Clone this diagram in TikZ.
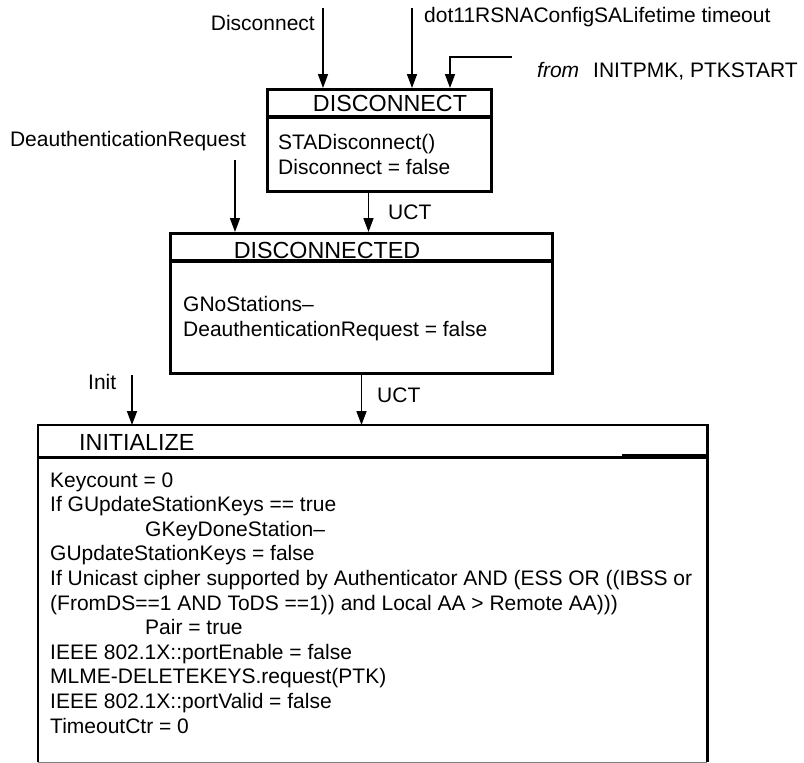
\documentclass[tikz,border=0pt]{standalone}
\usepackage{fontspec}
\setmainfont{Liberation Sans}
\usetikzlibrary{arrows.meta}
\begin{document}
\begin{tikzpicture}[x=1pt,y=-1pt,
  box/.style={draw, line width=3pt, inner sep=0pt, anchor=north west},
  hdr/.style={font=\fontsize{23.3}{27}\selectfont, inner sep=0pt},
  txt/.style={font=\fontsize{21}{25}\selectfont, inner sep=0pt, anchor=base west},
  arr/.style={line width=1.6pt, -{Triangle[length=14pt,width=10pt]}},
]
\useasboundingbox (0,0) rectangle (804,763);

% ---------- DISCONNECT ----------
\node[box, minimum width=224pt, minimum height=102pt] (dc) at (266,88) {};
\draw[line width=4pt] (266,117) -- (490,117);
\node[hdr, anchor=base] (dch) at (390,111) {DISCONNECT};
\node[txt] (dc1) at (278,149) {STADisconnect()};
\node[txt] (dc2) at (278,174) {Disconnect = false};

% inputs to DISCONNECT
\coordinate (sDisc) at (323,8);
\draw[arr] (sDisc) -- (sDisc |- dc.north);
\node[txt, anchor=base east] (lDisc) at (315,30) {Disconnect};
\coordinate (sDot) at (412,8);
\draw[arr] (sDot) -- (sDot |- dc.north);
\node[txt] (lDot) at (424,22) {dot11RSNAConfigSALifetime timeout};
\coordinate (sFrom) at (512,57);
\coordinate (kFrom) at (450,57);
\draw[arr] (sFrom) -- (kFrom) -- (kFrom |- dc.north);
\node[txt] (lFrom) at (537,77) {\textit{from}\hspace{14pt}INITPMK, PTKSTART};

% ---------- DISCONNECTED ----------
\node[box, minimum width=382pt, minimum height=140pt] (dd) at (169,232) {};
\draw[line width=4pt] (169,261) -- (551,261);
\node[hdr, anchor=base] (ddh) at (327,258) {DISCONNECTED};
\node[txt] (dd1) at (183,311) {GNoStations--};
\node[txt] (dd2) at (183,336) {DeauthenticationRequest = false};

% UCT from DISCONNECT
\draw[arr] ([xshift=-11pt]dc.south) -- ([xshift=-11pt]dc.south |- dd.north);
\node[txt] (lUct1) at (388,219) {UCT};
% DeauthenticationRequest
\coordinate (sDeauth) at (235,160);
\draw[arr] (sDeauth) -- (sDeauth |- dd.north);
\node[txt, anchor=base] (lDeauth) at (128,146) {DeauthenticationRequest};

% ---------- INITIALIZE ----------
\node[inner sep=0pt, minimum width=669pt, minimum height=337pt, anchor=north west] (ini) at (38,425) {};
\draw[line width=2.5pt] (ini.south west) -- (ini.north west) -- (ini.north east) -- (ini.south east);
\draw[gray, line width=1pt] (ini.south west) -- (ini.south east);
\draw[line width=3pt] (38,457) -- (707,457);
\draw[line width=4pt] (622,456) -- (707,456);
\node[hdr, anchor=base west] (inih) at (79,450) {INITIALIZE};

\foreach \t/\x [count=\k from 0] in {
  {Keycount = 0}/50,
  {If GUpdateStationKeys == true}/50,
  {GKeyDoneStation--}/145,
  {GUpdateStationKeys = false}/50,
  {If Unicast cipher supported by Authenticator AND (ESS OR ((IBSS or}/50,
  {(FromDS==1 AND ToDS ==1)) and Local AA > Remote AA)))}/50,
  {Pair = true}/145,
  {IEEE 802.1X::portEnable = false}/50,
  {MLME-DELETEKEYS.request(PTK)}/50,
  {IEEE 802.1X::portValid = false}/50,
  {TimeoutCtr = 0}/50}
  \node[txt] (ini\k) at (\x,{487+24.6*\k}) {\t};

% UCT from DISCONNECTED
\draw[arr] (dd.south) -- (dd.south |- ini.north);
\node[txt] (lUct2) at (377,402) {UCT};
% Init
\coordinate (sInit) at (132,375);
\draw[arr] (sInit) -- (sInit |- ini.north);
\node[txt] (lInit) at (88,389) {Init};
\end{tikzpicture}
\end{document}
